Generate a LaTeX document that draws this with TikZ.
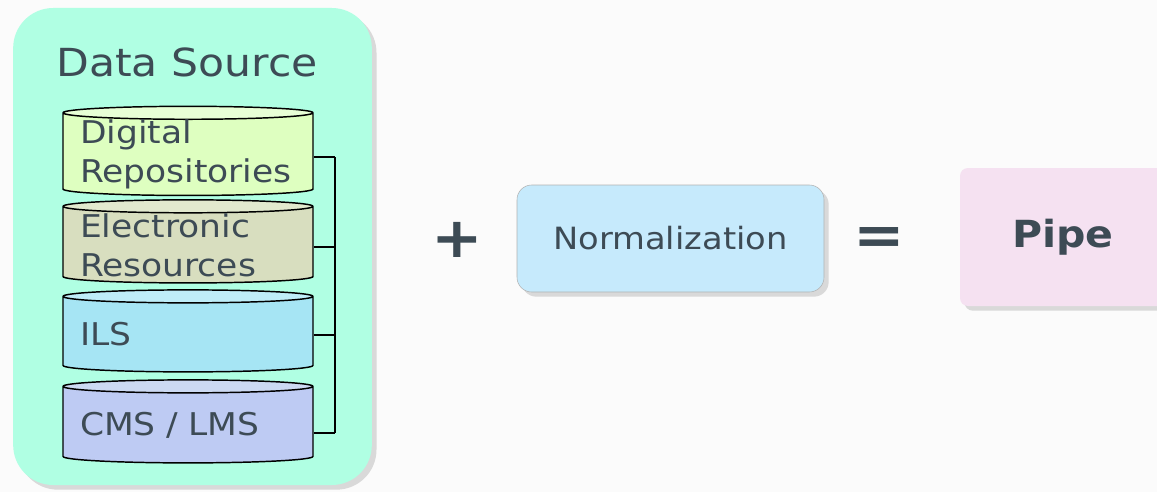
\documentclass[tikz,border=0pt]{standalone}
\usepackage{fontspec}
\setmainfont[FakeStretch=1.1]{DejaVu Sans}
\usetikzlibrary{shapes.geometric,shadows}
\definecolor{txt}{HTML}{3D4B55}
\definecolor{mint}{HTML}{B0FFE3}
\definecolor{shade}{HTML}{D9D9D9}
\definecolor{normfill}{HTML}{C6EAFC}
\definecolor{pipefill}{HTML}{F5E1F1}
\definecolor{drbody}{HTML}{DEFFC0}
\definecolor{drend}{HTML}{E8FFD6}
\definecolor{erbody}{HTML}{D8DEBF}
\definecolor{erend}{HTML}{E2E9CE}
\definecolor{ilsbody}{HTML}{A6E5F4}
\definecolor{ilsend}{HTML}{BFEDF8}
\definecolor{cmsbody}{HTML}{BECBF3}
\definecolor{cmsend}{HTML}{CCD9F2}
\tikzset{
  db/.style={cylinder, shape border rotate=90, draw=black, line width=1.1pt,
    minimum width=187.5pt, aspect=0.06, text width=162pt, align=left,
    inner xsep=0pt, inner ysep=0pt, cylinder uses custom fill, text=txt, font=\fontsize{23.5}{29}\selectfont},
  box/.style={rectangle, text=txt, drop shadow={shadow xshift=3.5pt, shadow yshift=-3.5pt, fill=shade, opacity=1}},
  sign/.style={text=txt, font=\fontsize{42}{42}\selectfont\bfseries}
}
\begin{document}
\begin{tikzpicture}[x=0.75pt,y=-0.75pt]
\useasboundingbox[fill=white!98.5!black] (0,0) rectangle (1157,492);
% data source box
\node[box, fill=mint, rounded corners=30pt, minimum width=269pt, minimum height=357.75pt] (ds) at (192.5,246.5) {};
\node[text=txt, font=\fontsize{29}{29}\selectfont] (dstitle) at (187,62) {Data Source};

% the four stores
\node[db, minimum height=63.75pt, cylinder body fill=drbody, cylinder end fill=drend] (dr) at (188,154.5) {Digital\\Repositories};
\node[db, minimum height=61.5pt, cylinder body fill=erbody, cylinder end fill=erend] (er) at (188,245) {Electronic\\Resources};
\node[db, minimum height=61.5pt, cylinder body fill=ilsbody, cylinder end fill=ilsend] (ils) at (188,334.5) {ILS};
\node[db, minimum height=62.25pt, cylinder body fill=cmsbody, cylinder end fill=cmsend] (cms) at (188,425) {CMS / LMS};

% bracket
\coordinate (b1) at (335,157);
\coordinate (b2) at (335,247);
\coordinate (b3) at (335,335);
\coordinate (b4) at (335,433);
\draw[line width=1pt] (b1) -- (b4);
\draw[line width=1pt] (dr.east |- b1) -- (b1);
\draw[line width=1pt] (er.east |- b2) -- (b2);
\draw[line width=1pt] (ils.east |- b3) -- (b3);
\draw[line width=1pt] (cms.east |- b4) -- (b4);

% plus, normalization, equals, pipe
\node[sign] (plus) at (457,240) {+};
\node[box, draw=black!30, fill=normfill, rounded corners=11pt, minimum width=230.25pt, minimum height=80.25pt, font=\fontsize{23}{23}\selectfont] (norm) at (670.5,238.5) {Normalization};
\node[sign] (eq) at (879,241) {=};
\node[box, fill=pipefill, rounded corners=6pt, minimum width=154.5pt, minimum height=103.5pt, font=\fontsize{28}{28}\selectfont\bfseries] (pipe) at (1063,237) {Pipe};
\end{tikzpicture}
\end{document}
